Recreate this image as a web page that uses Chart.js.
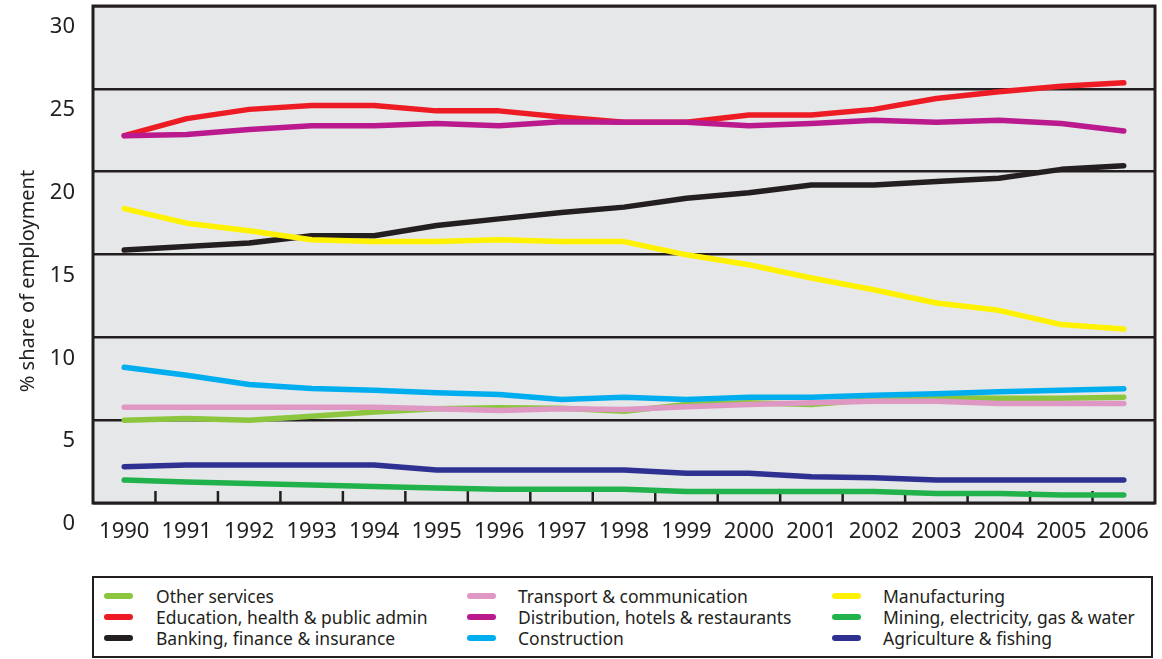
<!DOCTYPE html>
<html>
<head>
<meta charset="utf-8">
<script src="https://cdn.jsdelivr.net/npm/chart.js@4"></script>
<style>
  body { margin: 0; background: #fff; font-family: "Noto Sans", sans-serif; color: #231f20; }
  #wrap { position: absolute; left: 0; top: 0; width: 1162px; height: 545px; }
  #legend { position: absolute; left: 92px; top: 576px; width: 1057px; height: 78px; border: 2px solid #231f20; }
  .item { position: absolute; font-size: 17.5px; line-height: 20px; white-space: nowrap; }
  .swatch { position: absolute; width: 29px; height: 6px; border-radius: 3px; }
</style>
</head>
<body>
<div id="wrap"><canvas id="emprego"></canvas></div>
<div id="legend"></div>
<script>
// anos e séries (% da força de trabalho)
const years = ["1990", "1991", "1992", "1993", "1994", "1995", "1996", "1997", "1998", "1999", "2000", "2001", "2002", "2003", "2004", "2005", "2006"];
const otherServices = [5.0, 5.1, 5.0, 5.24, 5.5, 5.69, 5.75, 5.72, 5.54, 5.95, 6.05, 5.95, 6.25, 6.35, 6.33, 6.33, 6.39];
const education = [22.17, 23.2, 23.76, 24.0, 24.0, 23.67, 23.67, 23.3, 22.98, 22.98, 23.42, 23.42, 23.76, 24.42, 24.82, 25.16, 25.36];
const banking = [15.27, 15.48, 15.69, 16.13, 16.13, 16.75, 17.15, 17.53, 17.86, 18.4, 18.73, 19.2, 19.2, 19.4, 19.6, 20.14, 20.36];
const transport = [5.78, 5.78, 5.78, 5.78, 5.78, 5.69, 5.58, 5.69, 5.64, 5.81, 5.95, 6.05, 6.14, 6.14, 6.0, 6.0, 6.0];
const distribution = [22.17, 22.25, 22.55, 22.77, 22.77, 22.91, 22.77, 23.01, 22.98, 22.98, 22.77, 22.91, 23.11, 22.98, 23.11, 22.91, 22.45];
const construction = [8.19, 7.71, 7.15, 6.91, 6.81, 6.65, 6.55, 6.25, 6.39, 6.25, 6.39, 6.39, 6.51, 6.59, 6.71, 6.81, 6.89];
const manufacturing = [17.77, 16.89, 16.43, 15.89, 15.78, 15.78, 15.89, 15.78, 15.78, 14.98, 14.38, 13.58, 12.87, 12.07, 11.63, 10.77, 10.5];
const mining = [1.39, 1.27, 1.17, 1.08, 0.99, 0.9, 0.83, 0.83, 0.83, 0.69, 0.69, 0.69, 0.69, 0.58, 0.58, 0.48, 0.48];
const agriculture = [2.19, 2.29, 2.29, 2.29, 2.29, 1.99, 1.99, 1.99, 1.99, 1.79, 1.79, 1.59, 1.53, 1.39, 1.39, 1.39, 1.39];
const yTicks = [0, 5, 10, 15, 20, 25, 30];

const escuro = "#231f20";

// ordem da legenda (coluna por coluna)
const series = [
  { label: "Other services", data: otherServices, color: "#8cc63f", order: 6 },
  { label: "Education, health & public admin", data: education, color: "#ed1c24", order: 3 },
  { label: "Banking, finance & insurance", data: banking, color: escuro, order: 5 },
  { label: "Transport & communication", data: transport, color: "#df98c4", order: 4 },
  { label: "Distribution, hotels & restaurants", data: distribution, color: "#bb1a8e", order: 2 },
  { label: "Construction", data: construction, color: "#00aeef", order: 1 },
  { label: "Manufacturing", data: manufacturing, color: "#fff200", order: 1 },
  { label: "Mining, electricity, gas & water", data: mining, color: "#22b24c", order: 1 },
  { label: "Agriculture & fishing", data: agriculture, color: "#2e3192", order: 1 },
];

// fundo cinza, moldura, tracinhos internos do eixo x e título do eixo y
const moldura = {
  id: "moldura",
  beforeDraw(chart) {
    const { ctx, chartArea: a } = chart;
    ctx.save();
    ctx.fillStyle = "#e6e7e8";
    ctx.fillRect(a.left, a.top, a.right - a.left, a.bottom - a.top);
    ctx.restore();
  },
  beforeDatasetsDraw(chart) {
    const { ctx, chartArea: a } = chart;
    const x = chart.scales.x;
    ctx.save();
    ctx.strokeStyle = escuro;
    ctx.lineWidth = 2.5;
    for (let i = 1; i < years.length; i++) {
      const px = (x.getPixelForValue(i - 1) + x.getPixelForValue(i)) / 2;
      ctx.beginPath();
      ctx.moveTo(px, a.bottom);
      ctx.lineTo(px, a.bottom - 12);
      ctx.stroke();
    }
    ctx.restore();
  },
  afterDraw(chart) {
    const { ctx, chartArea: a } = chart;
    ctx.save();
    ctx.strokeStyle = escuro;
    ctx.lineWidth = 3;
    ctx.strokeRect(a.left, a.top, a.right - a.left, a.bottom - a.top);
    ctx.translate(28, 281);
    ctx.rotate(-Math.PI / 2);
    ctx.fillStyle = escuro;
    ctx.font = '20px "Noto Sans"';
    ctx.textAlign = "center";
    ctx.textBaseline = "middle";
    ctx.fillText("% share of employment", 0, 0);
    ctx.restore();
  },
};

const ctx = document.getElementById("emprego");
new Chart(ctx, {
  type: "line",
  data: {
    labels: years,
    datasets: series.map((s) => ({
      label: s.label,
      data: s.data,
      borderColor: s.color,
      backgroundColor: s.color,
      borderWidth: 5.5,
      borderCapStyle: "round",
      borderJoinStyle: "round",
      pointRadius: 0,
      tension: 0,
      order: s.order,
    })),
  },
  options: {
    responsive: true,
    maintainAspectRatio: false,
    animation: false,
    layout: { padding: { top: 6, right: 7, left: 0, bottom: 0 } },
    plugins: { legend: { display: false }, tooltip: { enabled: false } },
    scales: {
      x: {
        type: "category",
        offset: true,
        grid: { display: false, offset: true },
        border: { display: false },
        ticks: {
          color: escuro,
          font: { family: "Noto Sans", size: 22 },
          padding: 8,
          maxRotation: 0,
          autoSkip: false,
        },
        afterFit: (scale) => {
          scale.height = 42;
          scale.paddingLeft = 0;
          scale.paddingRight = 0;
        },
      },
      y: {
        min: 0,
        max: 30,
        afterBuildTicks: (scale) => { scale.ticks = yTicks.map((v) => ({ value: v })); },
        grid: { color: escuro, lineWidth: 2.5, drawTicks: false },
        border: { display: false },
        ticks: {
          color: escuro,
          font: { family: "Noto Sans", size: 22 },
          padding: 18,
          labelOffset: 21,
        },
        afterFit: (scale) => {
          scale.width = 93;
          scale.paddingTop = 0;
          scale.paddingBottom = 0;
        },
      },
    },
  },
  plugins: [moldura],
});

// legenda em três colunas
const legenda = document.getElementById("legend");
const colSwatch = [104, 467, 832];
const colTexto = [156, 518, 883];
const linhas = [597, 618, 639];
series.forEach((s, i) => {
  const col = Math.floor(i / 3);
  const lin = i % 3;
  const sw = document.createElement("span");
  sw.className = "swatch";
  sw.style.background = s.color;
  sw.style.left = colSwatch[col] - 94 + "px";
  sw.style.top = linhas[lin] - 578 - 4 + "px";
  legenda.appendChild(sw);
  const txt = document.createElement("span");
  txt.className = "item";
  txt.textContent = s.label;
  txt.style.left = colTexto[col] - 94 + "px";
  txt.style.top = linhas[lin] - 578 - 11 + "px";
  legenda.appendChild(txt);
});
</script>
</body>
</html>
